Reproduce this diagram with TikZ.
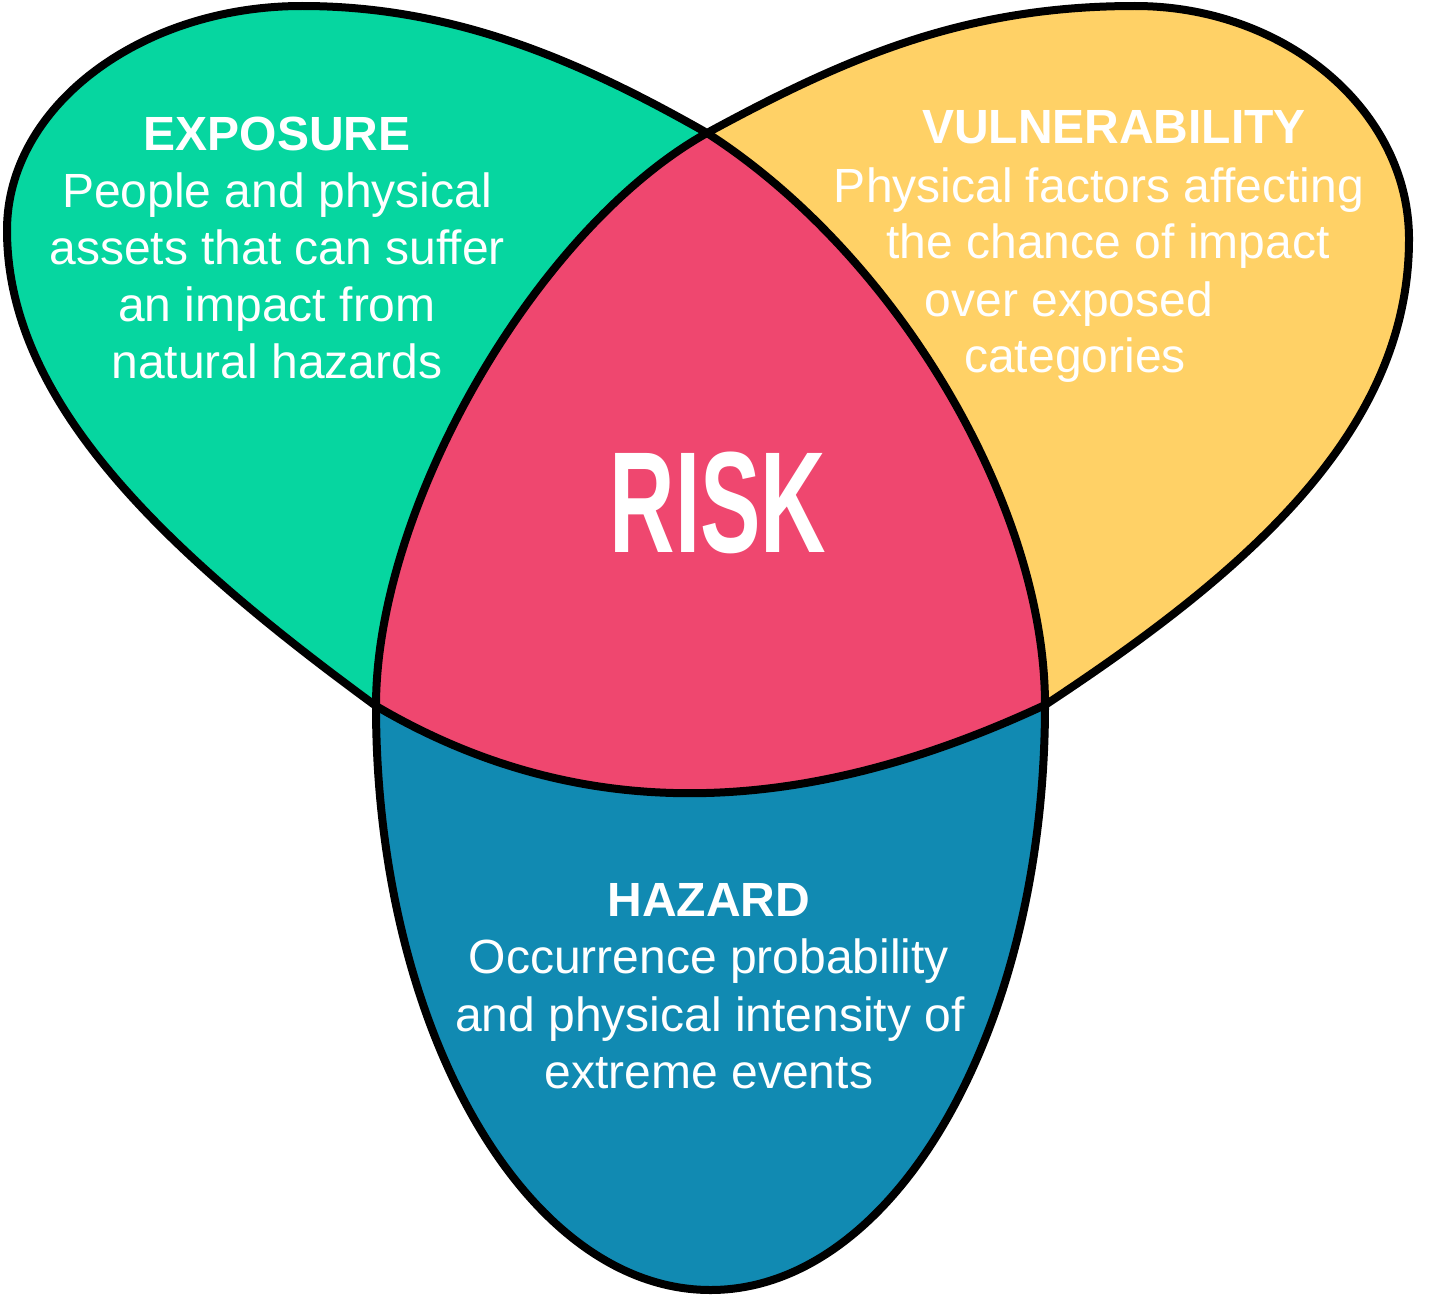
\documentclass[tikz,border=0pt]{standalone}
\usepackage{fontspec}
\setmainfont{Liberation Sans}
\definecolor{cgreen}{HTML}{06D6A0}
\definecolor{cyellow}{HTML}{FFD166}
\definecolor{cred}{HTML}{EF476F}
\definecolor{cblue}{HTML}{118AB2}
\tikzset{
  txtline/.style={inner sep=0pt, anchor=base, text=white, font=\fontsize{48}{57.6}\selectfont},
  txthead/.style={txtline, font=\fontsize{48}{57.6}\selectfont\bfseries},
  outline/.style={draw=black, line width=8pt, line join=round},
}
\begin{document}
\begin{tikzpicture}[x=1pt,y=-1pt]
\useasboundingbox (0,0) rectangle (1443,1298);
\coordinate (T) at (707,133);
\coordinate (L) at (376,706);
\coordinate (R) at (1045,705);
\coordinate (B) at (710.5,1290);
\coordinate (GT) at (302,6);
\coordinate (GL) at (7,230);
\coordinate (YT) at (1135,6);
\coordinate (YR) at (1409,239);
% loop A: red sides + blue outer
\path[save path=\loopA] (T)
  .. controls (537,228) and (376,506) .. (L)
  .. controls (376,1028) and (526,1290) .. (B)
  .. controls (895,1290) and (1045,1028) .. (R)
  .. controls (1045,506) and (897,255) .. (T) -- cycle;
% loop B: green outer + red bottom + yellow outer
\path[save path=\loopB] (T)
  .. controls (577,59) and (452,6) .. (GT)
  .. controls (140,6) and (7,107) .. (GL)
  .. controls (7,400) and (160,548) .. (L)
  .. controls (597,836) and (824,808) .. (R)
  .. controls (1250,570) and (1409,430) .. (YR)
  .. controls (1409,111) and (1286,6) .. (YT)
  .. controls (965,6) and (847,57) .. (T) -- cycle;
\fill[cgreen, use path=\loopB];
\begin{scope}
  \clip (707,0) rectangle (1443,1298);
  \fill[cyellow, use path=\loopB];
\end{scope}
\fill[cblue, use path=\loopA];
\begin{scope}
  \clip[use path=\loopA];
  \fill[cred, use path=\loopB];
\end{scope}
\draw[outline, use path=\loopA];
\draw[outline, use path=\loopB];

\node[inner sep=0pt, anchor=base, text=white] (risk) at (718,552)
  {\fontsize{144}{144}\selectfont\bfseries\scalebox{0.63}[1]{RISK}};

\node[txthead] (expT) at (277,150) {EXPOSURE};
\node[txtline] (exp1) at (277,207) {People and physical};
\node[txtline] (exp2) at (277,264) {assets that can suffer};
\node[txtline] (exp3) at (277,321) {an impact from};
\node[txtline] (exp4) at (277,378) {natural hazards};

\node[txthead] (vulT) at (1114,143) {VULNERABILITY};
\node[txtline] (vul1) at (1099,202) {Physical factors affecting};
\node[txtline] (vul2) at (1108,258) {the chance of impact};
\node[txtline] (vul3) at (1069,316) {over exposed};
\node[txtline] (vul4) at (1075,372) {categories};

\node[txthead] (hazT) at (709,916) {HAZARD};
\node[txtline] (haz1) at (709,973) {Occurrence probability};
\node[txtline] (haz2) at (710,1031) {and physical intensity of};
\node[txtline] (haz3) at (709,1088) {extreme events};
\end{tikzpicture}
\end{document}
